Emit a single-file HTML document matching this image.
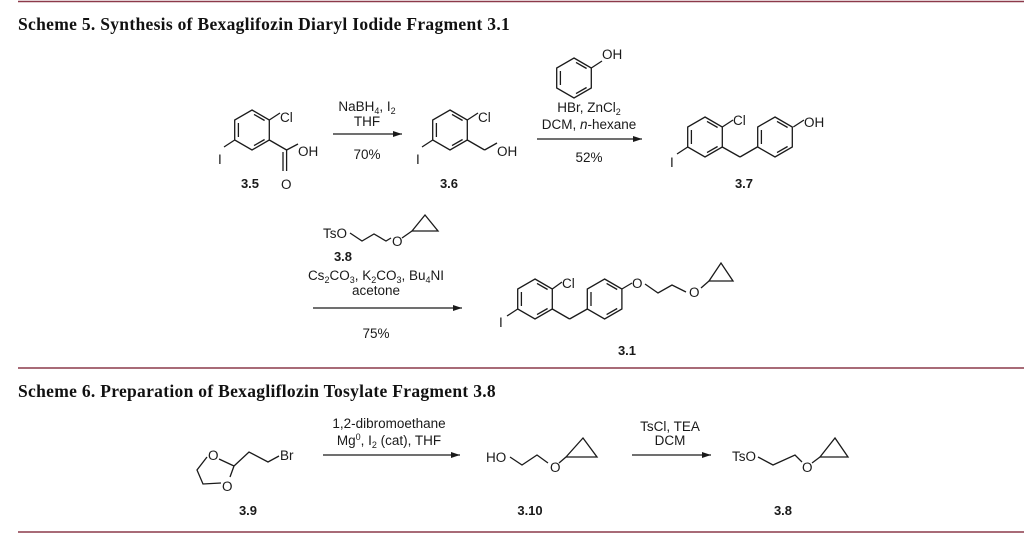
<!DOCTYPE html>
<html><head><meta charset="utf-8"><style>
html,body{margin:0;padding:0;background:#fff;}
svg{display:block;}
.t{font-family:"Liberation Sans",sans-serif;font-size:13.5px;fill:#1a1a1a;}
.b{font-family:"Liberation Sans",sans-serif;font-size:13px;font-weight:bold;fill:#1a1a1a;}
.h{font-family:"Liberation Serif",serif;font-size:17.5px;font-weight:bold;fill:#111;letter-spacing:0.3px;}
</style></head><body>
<svg width="1024" height="534" viewBox="0 0 1024 534" xmlns="http://www.w3.org/2000/svg">
<defs>
<g id="hex" fill="none" stroke="#1a1a1a" stroke-width="1.3">
<polygon points="0,-20 17.3,-10 17.3,10 0,20 -17.3,10 -17.3,-10"/>
<line x1="-13.6" y1="-7" x2="-13.6" y2="7"/>
<line x1="2" y1="-15.6" x2="12.6" y2="-9.5"/>
<line x1="12.6" y1="9.5" x2="2" y2="15.6"/>
</g>
<marker id="ar" markerWidth="10" markerHeight="8" refX="9" refY="4" orient="auto" markerUnits="userSpaceOnUse">
<path d="M0,1 L9,4 L0,7 Z" fill="#1a1a1a"/>
</marker>
</defs>
<line x1="18" y1="1.5" x2="1024" y2="1.5" stroke="#8c3a4a" stroke-width="1.6"/>
<line x1="18" y1="368" x2="1024" y2="368" stroke="#8c3a4a" stroke-width="1.6"/>
<line x1="18" y1="532" x2="1024" y2="532" stroke="#8c3a4a" stroke-width="1.6"/>
<text class="h" x="18" y="30">Scheme 5. Synthesis of Bexaglifozin Diaryl Iodide Fragment 3.1</text>
<text class="h" x="18" y="397">Scheme 6. Preparation of Bexagliflozin Tosylate Fragment 3.8</text>

<g stroke="#1a1a1a" stroke-width="1.3" fill="none">
<!-- 3.5 -->
<line x1="269.3" y1="120" x2="280" y2="113"/>
<line x1="234.7" y1="140" x2="224" y2="147"/>
<line x1="269.3" y1="140" x2="286.6" y2="150"/>
<line x1="286.6" y1="150" x2="286.6" y2="171"/>
<line x1="283" y1="152" x2="283" y2="171"/>
<line x1="286.6" y1="150" x2="298" y2="144"/>
<!-- 3.6 -->
<line x1="467.3" y1="120" x2="478" y2="113"/>
<line x1="432.7" y1="140" x2="422" y2="147"/>
<line x1="467.3" y1="140" x2="484.6" y2="150"/>
<line x1="484.6" y1="150" x2="497" y2="143"/>
<!-- phenol -->
<line x1="591.3" y1="68" x2="602" y2="61"/>
<!-- 3.7 -->
<line x1="722.3" y1="127" x2="733" y2="120"/>
<line x1="687.7" y1="147" x2="677" y2="154"/>
<line x1="722.3" y1="147" x2="740" y2="157"/>
<line x1="740" y1="157" x2="757.3" y2="147"/>
<line x1="793.3" y1="127" x2="804" y2="120"/>
<!-- 3.8 top -->
<polyline points="350,233 362,241 374,234 386,241 391,238"/>
<line x1="402" y1="238" x2="412" y2="231"/>
<polygon points="412,231 425,215 438,231"/>
<!-- 3.1 -->
<line x1="552.3" y1="289" x2="562" y2="282"/>
<line x1="517.7" y1="309" x2="507" y2="316"/>
<line x1="552.3" y1="309" x2="569.6" y2="319"/>
<line x1="569.6" y1="319" x2="587.3" y2="309"/>
<line x1="621.9" y1="289" x2="632" y2="283"/>
<polyline points="645,284 658,293 672,285 686,292"/>
<line x1="701" y1="288" x2="709" y2="281"/>
<polygon points="709,281 721,263 733,281"/>
<!-- 3.9 -->
<polyline points="207,457 197,470 203,484 221,483"/>
<line x1="219" y1="459" x2="234" y2="466"/>
<line x1="234" y1="466" x2="230" y2="477"/>
<polyline points="234,466 249,452 268,462 279,456"/>
<!-- 3.10 -->
<polyline points="510,457 522,465 537,455 548,463"/>
<line x1="559" y1="463" x2="566" y2="457"/>
<polygon points="566,457 583,438 597,457"/>
<!-- 3.8 bottom -->
<polyline points="758,457 773,465 795,455 802,462"/>
<line x1="812" y1="463" x2="820" y2="457"/>
<polygon points="820,457 835,438 848,457"/>
<!-- arrows -->
<line x1="333" y1="134" x2="402" y2="134" marker-end="url(#ar)"/>
<line x1="537" y1="139" x2="642" y2="139" marker-end="url(#ar)"/>
<line x1="313" y1="308" x2="462" y2="308" marker-end="url(#ar)"/>
<line x1="323" y1="455" x2="460" y2="455" marker-end="url(#ar)"/>
<line x1="632" y1="455" x2="711" y2="455" marker-end="url(#ar)"/>
</g>
<use href="#hex" x="252" y="130"/>
<use href="#hex" x="450" y="130"/>
<use href="#hex" x="574" y="78"/>
<use href="#hex" x="705" y="137"/>
<use href="#hex" x="775" y="137"/>
<use href="#hex" x="535" y="299"/>
<use href="#hex" x="604.6" y="299"/>

<g class="t">
<text x="280" y="122">Cl</text>
<text x="218" y="164">I</text>
<text x="298" y="156">OH</text>
<text x="281" y="189">O</text>
<text x="367" y="111" text-anchor="middle">NaBH<tspan font-size="9" dy="3">4</tspan><tspan dy="-3">, I</tspan><tspan font-size="9" dy="3">2</tspan></text>
<text x="367" y="126" text-anchor="middle">THF</text>
<text x="367" y="159" text-anchor="middle">70%</text>
<text x="478" y="122">Cl</text>
<text x="416" y="164">I</text>
<text x="497" y="156">OH</text>
<text x="602" y="59">OH</text>
<text x="589" y="112" text-anchor="middle">HBr, ZnCl<tspan font-size="9" dy="3">2</tspan></text>
<text x="589" y="129" text-anchor="middle">DCM, <tspan font-style="italic">n</tspan>-hexane</text>
<text x="589" y="162" text-anchor="middle">52%</text>
<text x="733" y="125">Cl</text>
<text x="670" y="167">I</text>
<text x="804" y="127">OH</text>
<text x="323" y="238">TsO</text>
<text x="392" y="246">O</text>
<text x="376" y="280" text-anchor="middle">Cs<tspan font-size="9" dy="3">2</tspan><tspan dy="-3">CO</tspan><tspan font-size="9" dy="3">3</tspan><tspan dy="-3">, K</tspan><tspan font-size="9" dy="3">2</tspan><tspan dy="-3">CO</tspan><tspan font-size="9" dy="3">3</tspan><tspan dy="-3">, Bu</tspan><tspan font-size="9" dy="3">4</tspan><tspan dy="-3">NI</tspan></text>
<text x="376" y="295" text-anchor="middle">acetone</text>
<text x="376" y="338" text-anchor="middle">75%</text>
<text x="562" y="288">Cl</text>
<text x="499" y="327">I</text>
<text x="632" y="288">O</text>
<text x="689" y="297">O</text>
<text x="208" y="460">O</text>
<text x="222" y="491">O</text>
<text x="280" y="460">Br</text>
<text x="389" y="428" text-anchor="middle">1,2-dibromoethane</text>
<text x="389" y="445" text-anchor="middle">Mg<tspan font-size="9" dy="-5">0</tspan><tspan dy="5">, I</tspan><tspan font-size="9" dy="3">2</tspan><tspan dy="-3"> (cat), THF</tspan></text>
<text x="486" y="462">HO</text>
<text x="550" y="472">O</text>
<text x="670" y="431" text-anchor="middle">TsCl, TEA</text>
<text x="670" y="445" text-anchor="middle">DCM</text>
<text x="732" y="461">TsO</text>
<text x="802" y="472">O</text>
</g>
<g class="b" text-anchor="middle">
<text x="250" y="188">3.5</text>
<text x="449" y="188">3.6</text>
<text x="744" y="188">3.7</text>
<text x="343" y="261">3.8</text>
<text x="627" y="355">3.1</text>
<text x="248" y="515">3.9</text>
<text x="530" y="515">3.10</text>
<text x="783" y="515">3.8</text>
</g>
</svg>
</body></html>
